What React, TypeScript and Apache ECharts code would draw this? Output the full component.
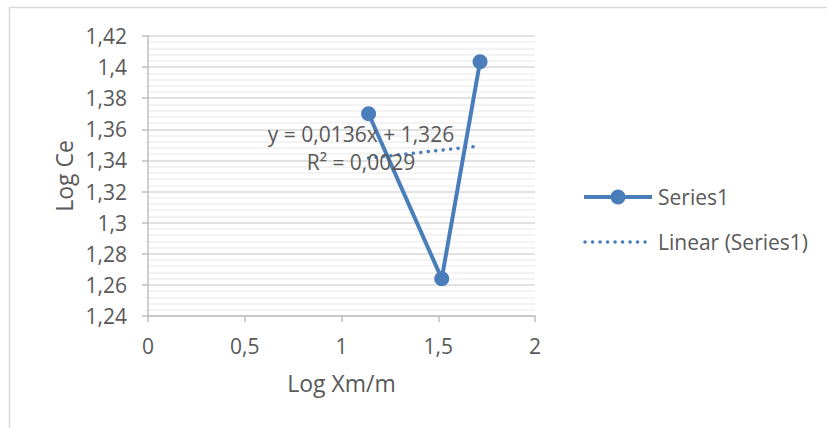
import React, { useEffect, useRef } from "react";
import * as echarts from "echarts";

const logXm: number[] = [1.14, 1.518, 1.716];
const logCe: number[] = [1.37, 1.264, 1.4035];
const trendSlope = 0.0136;
const trendIntercept = 1.326;
const equationLines: string[] = ["y = 0,0136x + 1,326", "R² = 0,0029"];
const seriesName = "Series1";
const trendName = "Linear (Series1)";

const FONT = "'Open Sans', 'Noto Sans', sans-serif";
const TXT = "#595959";
const BLUE = "#4a7ebb";
const FS = 21;
const FS_TITLE = 23;

const fmt = (v: number) => String(Number(v.toFixed(3))).replace(".", ",");

export default function App() {
  const ref = useRef<HTMLDivElement>(null);
  useEffect(() => {
    if (!ref.current) return;
    const chart = echarts.init(ref.current, null, { renderer: "svg" });
    const xMin = Math.min(...logXm);
    const xMax = Math.max(...logXm);
    const trend = [
      [xMin, trendSlope * xMin + trendIntercept],
      [xMax, trendSlope * xMax + trendIntercept],
    ];
    chart.setOption({
      animation: false,
      backgroundColor: "#ffffff",
      textStyle: { fontFamily: FONT },
      grid: { left: 148, top: 36, width: 387, height: 280, containLabel: false },
      xAxis: {
        type: "value",
        min: 0,
        max: 2,
        interval: 0.5,
        name: "Log Xm/m",
        nameLocation: "middle",
        nameGap: 55,
        nameTextStyle: { color: TXT, fontSize: FS_TITLE, fontFamily: FONT },
        axisLine: { show: true, lineStyle: { color: "#bfbfbf", width: 1.5 } },
        axisTick: { show: true, length: 6, lineStyle: { color: "#bfbfbf", width: 1.5 } },
        axisLabel: { color: TXT, fontSize: FS, margin: 19, formatter: fmt, fontFamily: FONT },
        splitLine: { show: false },
      },
      yAxis: {
        type: "value",
        min: 1.24,
        max: 1.42,
        interval: 0.02,
        name: "Log Ce",
        nameLocation: "middle",
        nameGap: 73,
        nameRotate: 90,
        nameTextStyle: { color: TXT, fontSize: FS_TITLE, fontFamily: FONT },
        axisLine: { show: true, lineStyle: { color: "#bfbfbf", width: 1.5 } },
        axisTick: { show: true, length: 6, lineStyle: { color: "#bfbfbf", width: 1.5 } },
        axisLabel: { color: TXT, fontSize: FS, margin: 21, formatter: fmt, fontFamily: FONT },
        splitLine: { show: true, lineStyle: { color: "#d9d9d9", width: 1.5 } },
        minorTick: { show: false, splitNumber: 5 },
        minorSplitLine: { show: true, lineStyle: { color: "#efefef", width: 1.5 } },
      },
      series: [
        {
          name: trendName,
          type: "line",
          data: trend,
          symbol: "none",
          lineStyle: { color: BLUE, width: 3.5, type: [0.1, 7.4], cap: "round" },
          itemStyle: { color: BLUE },
          z: 3,
        },
        {
          name: seriesName,
          type: "line",
          data: logXm.map((x, i) => [x, logCe[i]]),
          symbol: "circle",
          symbolSize: 15,
          lineStyle: { color: BLUE, width: 4 },
          itemStyle: { color: BLUE },
          z: 2,
        },
      ],
      graphic: [
        {
          type: "rect",
          shape: { x: 9.5, y: 7.5, width: 900, height: 500 },
          style: { fill: "none", stroke: "#d9d9d9", lineWidth: 1.5 },
          silent: true,
          z: -10,
        },
        {
          type: "text",
          x: 361,
          y: 148,
          style: {
            text: equationLines.join("\n"),
            fill: TXT,
            font: `${FS}px ${FONT}`,
            align: "center",
            verticalAlign: "middle",
            lineHeight: 27.5,
          },
          z: 10,
        },
        // legend: Series1
        {
          type: "line",
          shape: { x1: 584, y1: 197, x2: 652, y2: 197 },
          style: { stroke: BLUE, lineWidth: 4 },
        },
        {
          type: "circle",
          shape: { cx: 618, cy: 197, r: 7.5 },
          style: { fill: BLUE },
        },
        {
          type: "text",
          x: 658,
          y: 197,
          style: { text: seriesName, fill: TXT, font: `${FS}px ${FONT}`, verticalAlign: "middle" },
        },
        // legend: Linear
        {
          type: "line",
          shape: { x1: 585, y1: 242, x2: 652, y2: 242 },
          style: { stroke: BLUE, lineWidth: 3.5, lineDash: [0.1, 7.4], lineCap: "round" },
        },
        {
          type: "text",
          x: 658,
          y: 242,
          style: { text: trendName, fill: TXT, font: `${FS}px ${FONT}`, verticalAlign: "middle" },
        },
      ],
    });
    return () => chart.dispose();
  }, []);
  return (
    <div
      ref={ref}
      style={{ position: "absolute", left: 0, top: 0, width: 827, height: 428 }}
    />
  );
}
